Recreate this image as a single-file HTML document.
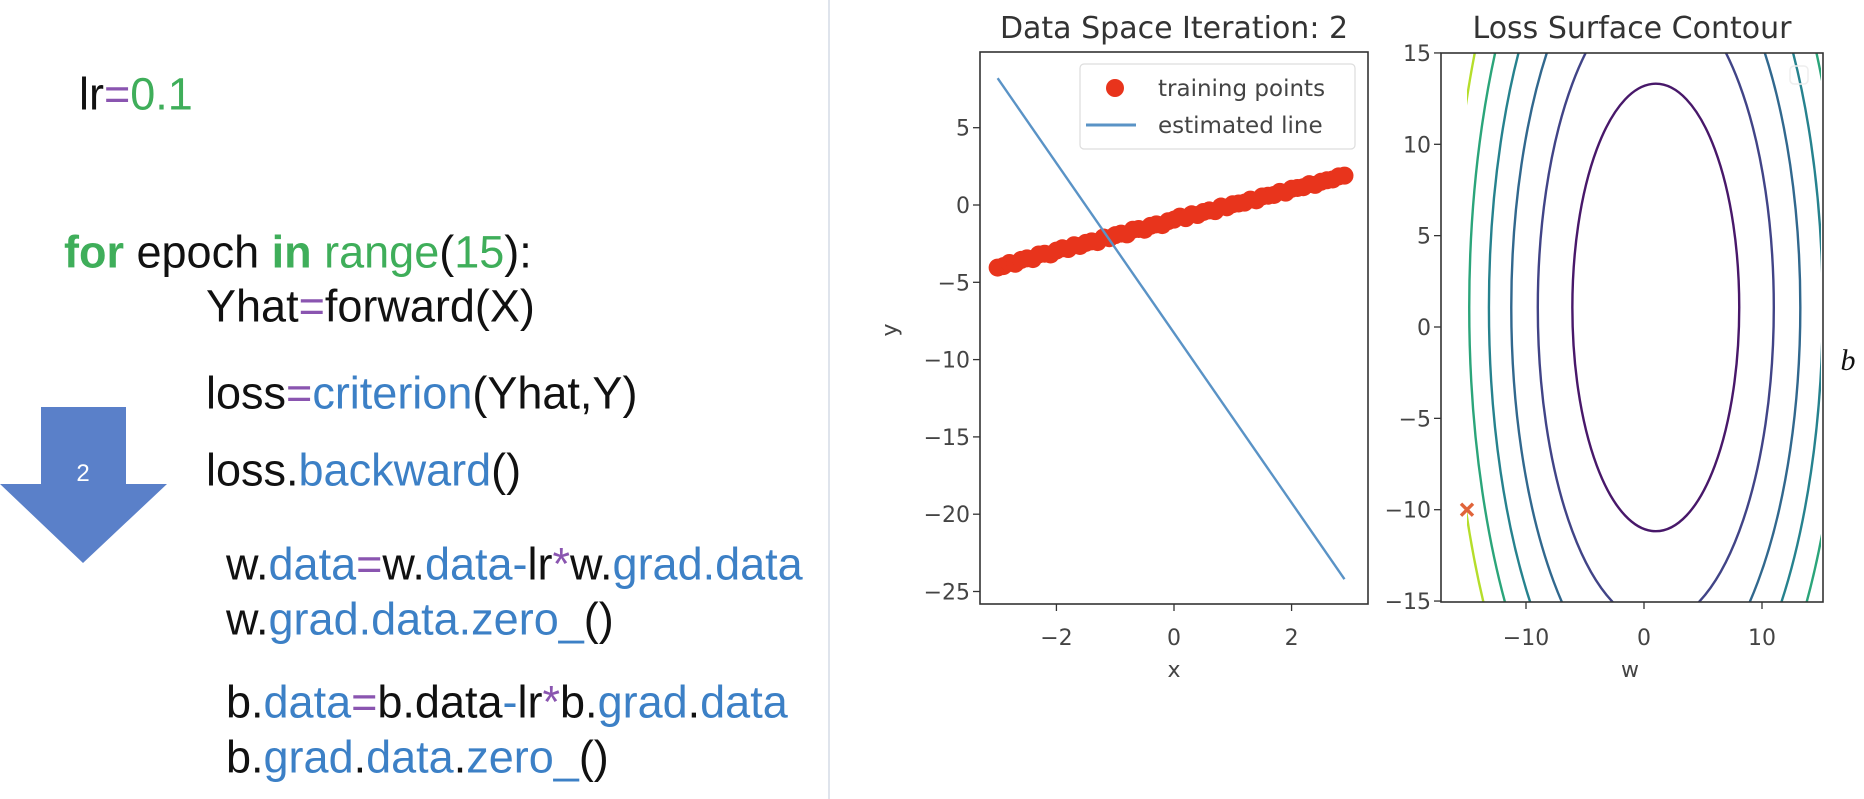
<!DOCTYPE html>
<html><head><meta charset="utf-8">
<style>
html,body{margin:0;padding:0;background:#fff;width:1864px;height:799px;overflow:hidden;}
body{position:relative;font-family:"Liberation Sans",sans-serif;}
.code{position:absolute;font-size:45px;color:#111;white-space:nowrap;line-height:1;transform:translateY(-50%);}
.g{color:#3fae5a}.b{color:#3c80c6}.p{color:#8a55b0}
</style></head>
<body>
<div class="code" style="left:79px;top:94px">lr<span class="p">=</span><span class="g">0.1</span></div>
<div class="code" style="left:64px;top:252px"><span class="g" style="font-weight:bold">for</span> epoch <span class="g" style="font-weight:bold">in</span> <span class="g">range</span>(<span class="g">15</span>):</div>
<div class="code" style="left:206px;top:306px">Yhat<span class="p">=</span>forward(X)</div>
<div class="code" style="left:206px;top:393px">loss<span class="p">=</span><span class="b">criterion</span>(Yhat,Y)</div>
<div class="code" style="left:206px;top:470px">loss.<span class="b">backward</span>()</div>
<div class="code" style="left:226px;top:564px">w.<span class="b">data</span><span class="p">=</span>w.<span class="b">data-</span>lr<span class="p">*</span>w.<span class="b">grad.data</span></div>
<div class="code" style="left:226px;top:619px">w.<span class="b">grad.data.zero_</span>()</div>
<div class="code" style="left:226px;top:702px">b.<span class="b">data</span><span class="p">=</span>b.data<span class="b">-</span>lr<span class="p">*</span>b.<span class="b">grad</span>.<span class="b">data</span></div>
<div class="code" style="left:226px;top:757px">b.<span class="b">grad</span>.<span class="b">data</span>.<span class="b">zero_</span>()</div>

<svg style="position:absolute;left:0;top:0" width="180" height="600">
<polygon points="41,407 126,407 126,484 167,484 83,563 0,484 41,484" fill="#5a80c9"/>
<text x="83" y="481" fill="#fff" font-size="24" text-anchor="middle" font-family="Liberation Sans, sans-serif">2</text>
</svg>
<div style="position:absolute;left:828px;top:0;width:2px;height:799px;background:#dfe4ec"></div>

<svg id="chart" style="position:absolute;left:0;top:0" width="1864" height="799" font-family="DejaVu Sans, sans-serif"></svg>
<script>
const pointX=[-3.0,-2.9,-2.8,-2.7,-2.6,-2.5,-2.4,-2.3,-2.2,-2.1,-2.0,-1.9,-1.8,-1.7,-1.6,-1.5,-1.4,-1.3,-1.2,-1.1,-1.0,-0.9,-0.8,-0.7,-0.6,-0.5,-0.4,-0.3,-0.2,-0.1,0.0,0.1,0.2,0.3,0.4,0.5,0.6,0.7,0.8,0.9,1.0,1.1,1.2,1.3,1.4,1.5,1.6,1.7,1.8,1.9,2.0,2.1,2.2,2.3,2.4,2.5,2.6,2.7,2.8,2.9];
const pointY=[-4.05,-3.95,-3.75,-3.8,-3.55,-3.45,-3.5,-3.2,-3.15,-3.2,-2.95,-2.8,-2.85,-2.6,-2.65,-2.45,-2.35,-2.4,-2.1,-2.15,-1.95,-1.85,-1.9,-1.6,-1.55,-1.6,-1.35,-1.25,-1.3,-1.05,-0.95,-0.75,-0.85,-0.6,-0.65,-0.45,-0.35,-0.4,-0.1,-0.15,0.05,0.1,0.15,0.35,0.3,0.55,0.6,0.65,0.85,0.8,1.05,1.1,1.15,1.35,1.3,1.5,1.6,1.65,1.85,1.9];
const lineX=[-3.0,2.9];
const lineY=[8.2,-24.2];
const leftXTicks=[-2,0,2];
const leftYTicks=[5,0,-5,-10,-15,-20,-25];
const contourLevels=[150,300,450,600,750,900];
const contourColors=['#48186a','#414487','#31688e','#26828e','#2ba57a','#b5de2b'];
const lossCenter=[1.0,1.07];
const gridRange=[-15,15];
const paramW=[-15];
const paramB=[-10];
const rightXTicks=[-10,0,10];
const rightYTicks=[15,10,5,0,-5,-10,-15];

const NS='http://www.w3.org/2000/svg';
const svg=document.getElementById('chart');
function mk(tag,attrs,parent){const e=document.createElementNS(NS,tag);for(const k in attrs)e.setAttribute(k,attrs[k]);(parent||svg).appendChild(e);return e;}
function fmt(v){return v<0?'\u2212'+(-v):''+v;}
const L={x0:980,x1:1368,y0:52,y1:604};
const lx=v=>L.x0+(v+3.3)/6.6*(L.x1-L.x0);
const ly=v=>205-v*15.46;
const R={x0:1441,x1:1823,y0:53,y1:602};
const rx=v=>1644+v*11.8;
const ry=v=>327-v*18.27;
const TF=22;

const cpL=mk('clipPath',{id:'cl'});mk('rect',{x:L.x0,y:L.y0,width:L.x1-L.x0,height:L.y1-L.y0},cpL);
const cpR=mk('clipPath',{id:'cr'});mk('rect',{x:Math.max(R.x0,rx(gridRange[0])),y:R.y0,width:Math.min(R.x1,rx(gridRange[1]))-Math.max(R.x0,rx(gridRange[0])),height:R.y1-R.y0},cpR);

let t=mk('text',{x:(L.x0+L.x1)/2,y:38,'font-size':30,fill:'#333','text-anchor':'middle'});t.textContent='Data Space Iteration: 2';


t=mk('text',{x:(R.x0+R.x1)/2,y:38,'font-size':30,fill:'#333','text-anchor':'middle'});t.textContent='Loss Surface Contour';



const gL=mk('g',{'clip-path':'url(#cl)'});


pointX.forEach((x,i)=>{const c=mk('circle',{cx:lx(x),cy:ly(pointY[i]),r:9,fill:'#e8341c'},gL);

});
const ln=mk('line',{x1:lx(lineX[0]),y1:ly(lineY[0]),x2:lx(lineX[1]),y2:ly(lineY[1]),stroke:'#5a93c6','stroke-width':2.4},gL);


mk('rect',{x:L.x0,y:L.y0,width:L.x1-L.x0,height:L.y1-L.y0,fill:'none',stroke:'#333','stroke-width':1.6});
leftXTicks.forEach(v=>{mk('line',{x1:lx(v),x2:lx(v),y1:L.y1,y2:L.y1+7,stroke:'#333','stroke-width':1.3});
const e=mk('text',{x:lx(v),y:645,'font-size':TF,fill:'#444','text-anchor':'middle'});e.textContent=fmt(v);

});
leftYTicks.forEach(v=>{mk('line',{x1:L.x0-7,x2:L.x0,y1:ly(v),y2:ly(v),stroke:'#333','stroke-width':1.3});
const e=mk('text',{x:L.x0-10,y:ly(v)+8,'font-size':TF,fill:'#444','text-anchor':'end'});e.textContent=fmt(v);

});
t=mk('text',{x:1174,y:677,'font-size':TF,fill:'#444','text-anchor':'middle'});t.textContent='x';


t=mk('text',{x:0,y:0,'font-size':TF,fill:'#444','text-anchor':'middle',transform:'translate(897,330) rotate(-90)'});t.textContent='y';


const lg=mk('g',{});


mk('rect',{x:1080,y:64,width:275,height:85,rx:4,fill:'#fff',stroke:'#ddd','stroke-width':1.2},lg);
mk('circle',{cx:1115,cy:88,r:9,fill:'#e8341c'},lg);
t=mk('text',{x:1158,y:96,'font-size':23,fill:'#444'},lg);t.textContent='training points';
mk('line',{x1:1086,x2:1136,y1:125,y2:125,stroke:'#5a93c6','stroke-width':3},lg);
t=mk('text',{x:1158,y:133,'font-size':23,fill:'#444'},lg);t.textContent='estimated line';

const gR=mk('g',{'clip-path':'url(#cr)'});


contourLevels.forEach((lv,i)=>{const hw=Math.sqrt(lv/3),hb=Math.sqrt(lv);
const e=mk('ellipse',{cx:rx(lossCenter[0]),cy:ry(lossCenter[1]),rx:hw*11.8,ry:hb*18.27,fill:'none',stroke:contourColors[i],'stroke-width':2.4},gR);

});
paramW.forEach((w,i)=>{const cx=rx(w),cy=ry(paramB[i]);const g=mk('g',{stroke:'#e0643a','stroke-width':3.4});


mk('line',{x1:cx-6,y1:cy-6,x2:cx+6,y2:cy+6},g);mk('line',{x1:cx-6,y1:cy+6,x2:cx+6,y2:cy-6},g);});
mk('rect',{x:1790,y:66,width:18,height:18,rx:4,fill:'none',stroke:'#eee','stroke-width':1.5});
mk('rect',{x:R.x0,y:R.y0,width:R.x1-R.x0,height:R.y1-R.y0,fill:'none',stroke:'#333','stroke-width':1.6});
rightXTicks.forEach(v=>{mk('line',{x1:rx(v),x2:rx(v),y1:R.y1,y2:R.y1+7,stroke:'#333','stroke-width':1.3});
const e=mk('text',{x:rx(v),y:645,'font-size':TF,fill:'#444','text-anchor':'middle'});e.textContent=fmt(v);

});
rightYTicks.forEach(v=>{mk('line',{x1:R.x0-7,x2:R.x0,y1:ry(v),y2:ry(v),stroke:'#333','stroke-width':1.3});
const e=mk('text',{x:R.x0-10,y:ry(v)+8,'font-size':TF,fill:'#444','text-anchor':'end'});e.textContent=fmt(v);

});
t=mk('text',{x:1630,y:677,'font-size':TF,fill:'#444','text-anchor':'middle'});t.textContent='w';


t=mk('text',{x:1848,y:370,'font-size':30,fill:'#111','text-anchor':'middle','font-style':'italic','font-family':'Liberation Serif, serif'});t.textContent='b';


</script>
</body></html>
